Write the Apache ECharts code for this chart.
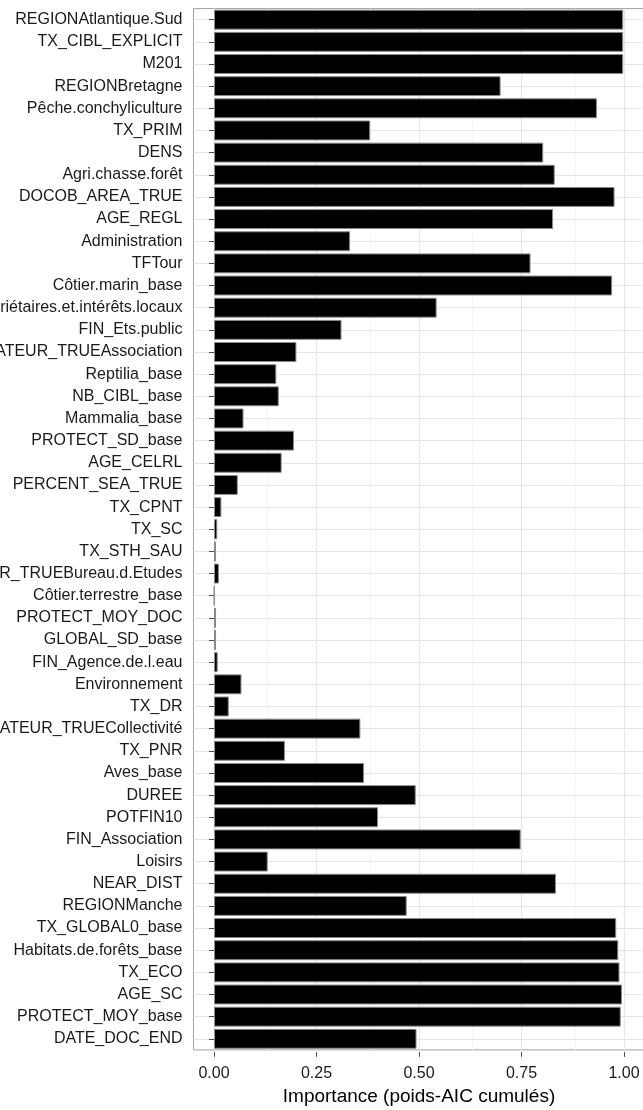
<!DOCTYPE html>
<html>
<head>
<meta charset="utf-8">
<script src="https://cdn.jsdelivr.net/npm/echarts@6/dist/echarts.min.js"></script>
<style>
html,body{margin:0;padding:0;background:#fff;}
#chart{width:643px;height:1110px;}
</style>
</head>
<body>
<div id="chart"></div>
<script>
const categories = [
  'REGIONAtlantique.Sud','TX_CIBL_EXPLICIT','M201','REGIONBretagne','Pêche.conchyliculture',
  'TX_PRIM','DENS','Agri.chasse.forêt','DOCOB_AREA_TRUE','AGE_REGL','Administration','TFTour',
  'Côtier.marin_base','Propriétaires.et.intérêts.locaux','FIN_Ets.public','OPERATEUR_TRUEAssociation',
  'Reptilia_base','NB_CIBL_base','Mammalia_base','PROTECT_SD_base','AGE_CELRL','PERCENT_SEA_TRUE',
  'TX_CPNT','TX_SC','TX_STH_SAU','OPERATEUR_TRUEBureau.d.Etudes','Côtier.terrestre_base',
  'PROTECT_MOY_DOC','GLOBAL_SD_base','FIN_Agence.de.l.eau','Environnement','TX_DR',
  'OPERATEUR_TRUECollectivité','TX_PNR','Aves_base','DUREE','POTFIN10','FIN_Association','Loisirs',
  'NEAR_DIST','REGIONManche','TX_GLOBAL0_base','Habitats.de.forêts_base','TX_ECO','AGE_SC',
  'PROTECT_MOY_base','DATE_DOC_END'
];
const importance = [
  0.998,0.998,0.998,0.699,0.934,
  0.381,0.803,0.831,0.977,0.827,0.332,0.772,
  0.971,0.543,0.311,0.201,
  0.152,0.158,0.072,0.195,0.165,0.058,
  0.018,0.008,0.005,0.012,0.001,
  0.005,0.005,0.009,0.067,0.036,
  0.357,0.173,0.366,0.492,0.400,0.748,0.131,
  0.834,0.470,0.981,0.986,0.989,0.995,
  0.992,0.494
];
const xTicks = [0, 0.25, 0.5, 0.75, 1];
const xMinorTicks = [0.125, 0.375, 0.625, 0.875];
const xTitle = 'Importance (poids-AIC cumulés)';

const FONT = '"Liberation Sans", Arial, Helvetica, sans-serif';
const chart = echarts.init(document.getElementById('chart'), null, {renderer: 'canvas'});

const gridLines = []
  .concat(xMinorTicks.map(v => ({xAxis: v, lineStyle: {color: '#f6f6f6', width: 1, type: 'solid'}})))
  .concat(xTicks.map(v => ({xAxis: v, lineStyle: {color: '#e6e6e6', width: 1.2, type: 'solid'}})))
  .concat(categories.map(c => ({yAxis: c, lineStyle: {color: '#e6e6e6', width: 1.2, type: 'solid'}})));

chart.setOption({
  animation: false,
  backgroundColor: '#ffffff',
  textStyle: {fontFamily: FONT},
  grid: {
    left: 193.5, top: 8.6, width: 451, height: 1041.3,
    show: true, backgroundColor: '#ffffff', borderColor: '#a0a0a0', borderWidth: 1,
    containLabel: false,
    outerBoundsMode: 'none'
  },
  xAxis: {
    type: 'value', min: -0.05, max: 1.05,
    offset: 2,
    axisLine: {show: false},
    splitLine: {show: false},
    axisTick: {show: true, length: 5, customValues: xTicks, lineStyle: {color: '#4d4d4d', width: 1}},
    axisLabel: {
      customValues: xTicks, fontSize: 16, color: '#1a1a1a', fontFamily: FONT, margin: 14,
      formatter: v => v.toFixed(2)
    },
    name: xTitle, nameLocation: 'middle', nameGap: 32,
    nameTextStyle: {fontSize: 19, color: '#000', fontFamily: FONT}
  },
  yAxis: {
    type: 'category', data: categories, inverse: true,
    axisLine: {show: false},
    splitLine: {show: false},
    axisTick: {show: true, alignWithLabel: true, length: 5, lineStyle: {color: '#4d4d4d', width: 1}},
    axisLabel: {
      interval: 0, fontSize: 16, color: '#1a1a1a', fontFamily: FONT, margin: 11,
      padding: [6, 0, 0, 0]
    }
  },
  series: [
    {
      type: 'line', data: [], silent: true, z: 0, symbol: 'none',
      markLine: {
        silent: true, symbol: ['none', 'none'], z: 0, animation: false,
        label: {show: false},
        lineStyle: {type: 'solid'},
        data: gridLines
      }
    },
    {
      type: 'bar', data: importance, z: 3,
      barCategoryGap: '10%',
      itemStyle: {color: '#000000', borderColor: '#8a8a8a', borderWidth: 1}
    }
  ]
});
</script>
</body>
</html>
